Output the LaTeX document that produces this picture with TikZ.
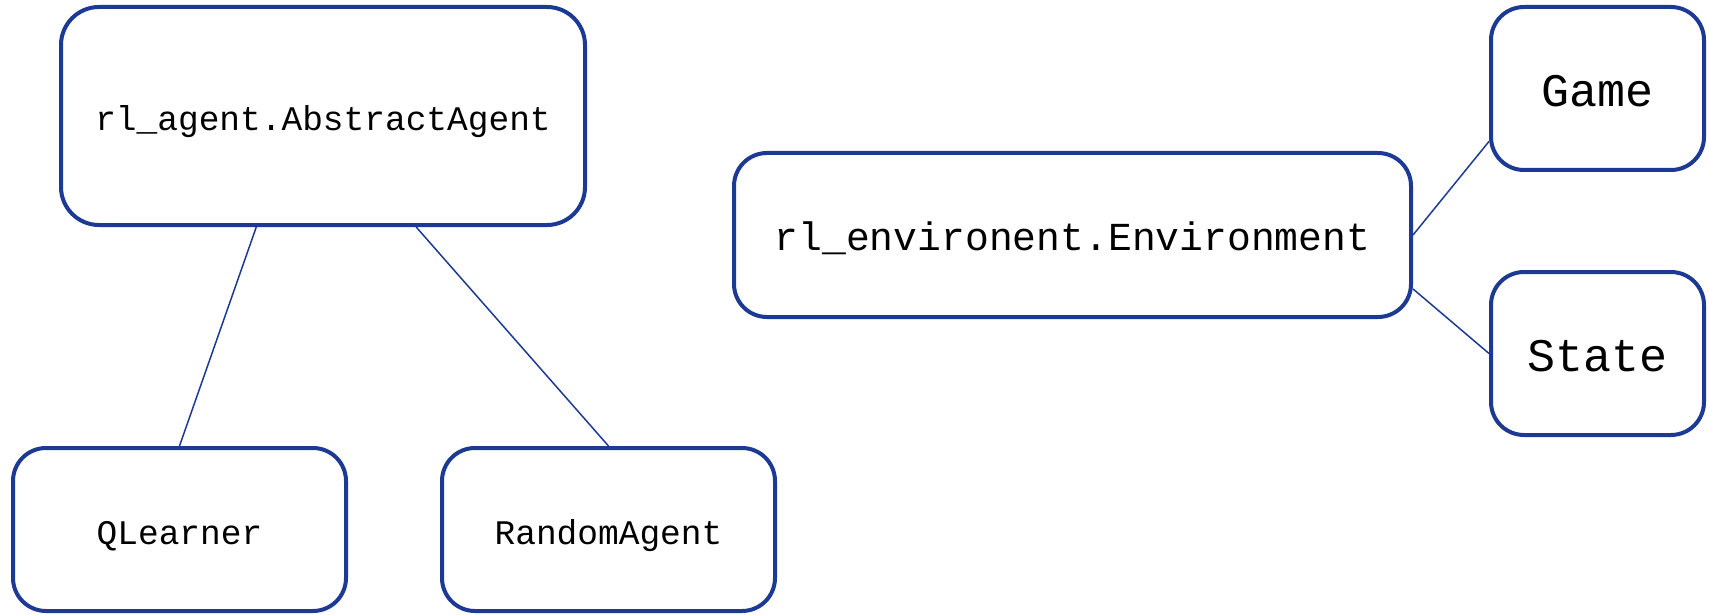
\documentclass[tikz,border=0pt]{standalone}
\usepackage{fontspec}
\setmonofont{Liberation Mono}
\definecolor{boxblue}{HTML}{1C3A94}
\tikzstyle{none}=[]
\tikzstyle{class}=[draw=boxblue, line width=4pt, rounded corners=33pt, fill=white, inner sep=0pt, text height=38pt, text depth=8pt, font=\ttfamily\fontsize{34.5pt}{40pt}\selectfont]
\tikzstyle{bigclass}=[class, text height=44pt, font=\ttfamily\fontsize{46.7pt}{54pt}\selectfont]
\tikzstyle{link}=[draw=boxblue, line width=1.5pt]

\begin{document}
\begin{tikzpicture}[x=1pt, y=-1pt]
                \useasboundingbox (0, 0) rectangle (1709, 615);
                \node [style=class, rounded corners=38pt, minimum width=524pt, minimum height=218pt] (0) at (323, 116) {rl\_agent.AbstractAgent};
                \node [style=class, minimum width=677pt, minimum height=164pt, font=\ttfamily\fontsize{39.7pt}{46pt}\selectfont] (1) at (1072.5, 235) {rl\_environent.Environment};
                \node [style=class, minimum width=333pt, minimum height=163pt] (2) at (179.5, 529.5) {QLearner};
                \node [style=class, minimum width=333pt, minimum height=163pt] (3) at (608.5, 529.5) {RandomAgent};
                \node [style=bigclass, minimum width=213pt, minimum height=163pt] (4) at (1597.5, 88.5) {Game};
                \node [style=bigclass, minimum width=213pt, minimum height=163pt] (5) at (1597.5, 353.5) {State};
                \draw [style=link] (0.-121) to (2.north);
                \draw [style=link] (0.-50) to (3.north);
                \draw [style=link] (1.east) to (4.206);
                \draw [style=link] (1.-9) to (5.west);
    \end{tikzpicture}
\end{document}
